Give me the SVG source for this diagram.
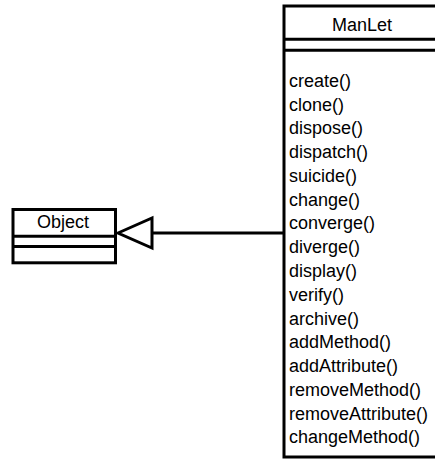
<svg xmlns="http://www.w3.org/2000/svg" width="435" height="459" viewBox="0 0 435 459">
<style>
.box{fill:#fff;stroke:#000;stroke-width:3}
.ln{stroke:#000;stroke-width:3;fill:none}
text{font-family:"Liberation Sans",Arial,sans-serif;font-size:18px;fill:#000}
.c{text-anchor:middle}
</style>
<rect width="435" height="459" fill="#fff"/>
<g id="connectors">
<line class="ln" x1="283" y1="233" x2="152" y2="233"/>
<polygon class="box" points="118,233 152,218 152,248"/>
</g>
<g id="Object">
<rect class="box" x="13" y="209.5" width="102.5" height="53.3"/>
<line class="ln" x1="13" y1="236.3" x2="115.5" y2="236.3"/>
<line class="ln" x1="13" y1="246.5" x2="115.5" y2="246.5"/>
<text class="c" x="63" y="227.5">Object</text>
</g>
<g id="ManLet">
<rect class="box" x="284" y="6" width="156" height="451"/>
<line class="ln" x1="284" y1="39.3" x2="440" y2="39.3"/>
<line class="ln" x1="284" y1="50.3" x2="440" y2="50.3"/>
<text class="c" x="362" y="31">ManLet</text>
<text x="289" y="86.7">create()</text>
<text x="289" y="110.5">clone()</text>
<text x="289" y="134.3">dispose()</text>
<text x="289" y="158">dispatch()</text>
<text x="289" y="181.8">suicide()</text>
<text x="289" y="205.6">change()</text>
<text x="289" y="229.4">converge()</text>
<text x="289" y="253.1">diverge()</text>
<text x="289" y="276.9">display()</text>
<text x="289" y="300.7">verify()</text>
<text x="289" y="324.5">archive()</text>
<text x="289" y="348.2">addMethod()</text>
<text x="289" y="372">addAttribute()</text>
<text x="289" y="395.8">removeMethod()</text>
<text x="289" y="419.6">removeAttribute()</text>
<text x="289" y="443.3">changeMethod()</text>
</g>
</svg>
